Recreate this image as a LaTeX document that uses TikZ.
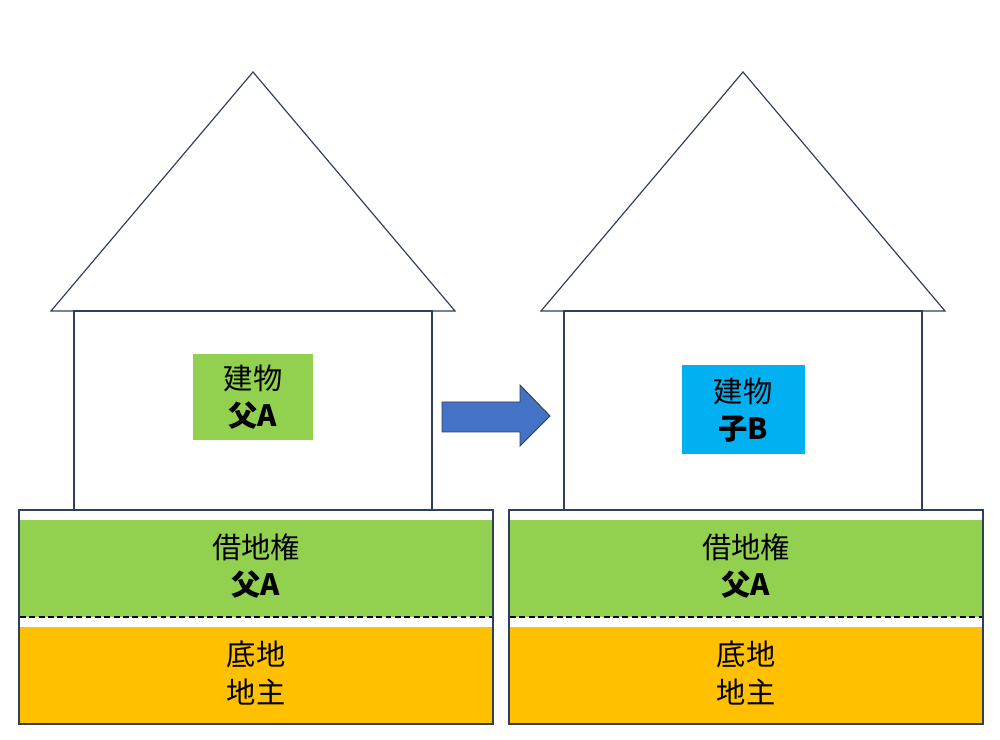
\documentclass[tikz,border=0pt]{standalone}
\usepackage{fontspec}
\setmainfont{Noto Sans CJK JP}
\definecolor{linenavy}{RGB}{47,62,92}
\definecolor{leasegreen}{RGB}{146,208,80}
\definecolor{landorange}{RGB}{255,192,0}
\definecolor{childcyan}{RGB}{0,176,240}
\definecolor{arrowblue}{RGB}{68,114,196}
\begin{document}
\begin{tikzpicture}[x=0.03cm, y=-0.03cm,
wall/.style={draw=linenavy, line width=1pt, fill=white},
tag/.style={font=\fontsize{25}{32}\selectfont, align=center, inner sep=0pt},
box/.style={fill=#1, minimum width=120*0.03cm, minimum height=86*0.03cm, tag}
]
\useasboundingbox (0,0) rectangle (1000,740);

% houses
\foreach \dx in {0,490}{
  \draw[wall] (51+\dx,311) -- (253+\dx,72) -- (455+\dx,311) -- cycle;
  \draw[wall] (74+\dx,311) rectangle (432+\dx,510);
  % ground
  \draw[wall] (19+\dx,510) rectangle (493+\dx,724);
  \fill[leasegreen] (20+\dx,520) rectangle (492+\dx,617);
  \fill[landorange] (20+\dx,627) rectangle (492+\dx,723);
  \draw[black, line width=1.2pt, dash pattern=on 5pt off 3pt] (20+\dx,617) -- (492+\dx,617);
  \node[tag] (lease\dx) at (256+\dx,566) {借地権\\\textbf{父A}};
  \node[tag] (land\dx) at (256+\dx,673) {底地\\地主};
}

% owners of the buildings
\node[box=leasegreen] (father) at (253,397) {建物\\\textbf{父A}};
\node[box=childcyan, minimum width=123*0.03cm, minimum height=89*0.03cm] (child) at (743,410) {建物\\\textbf{子B}};

% transfer arrow
\draw[draw=linenavy, fill=arrowblue, line width=0.8pt]
  (442,402) -- (520,402) -- (520,385) -- (550,416) -- (520,446) -- (520,432) -- (442,432) -- cycle;
\end{tikzpicture}
\end{document}
